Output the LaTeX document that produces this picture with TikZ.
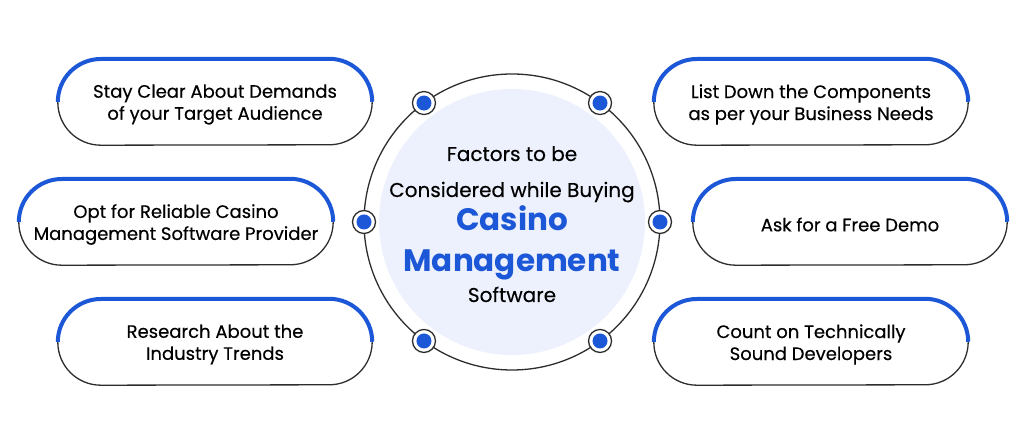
\documentclass[tikz,border=0pt]{standalone}
\usepackage{fontspec}
\setmainfont{Poppins}
\newfontfamily\popmed[FakeBold=0.35]{Poppins}
\usetikzlibrary{calc}
\definecolor{brandblue}{RGB}{27,87,214}
\definecolor{softfill}{RGB}{237,241,253}
\definecolor{darkline}{RGB}{45,45,45}
\tikzset{
  pillshape/.style={rectangle, inner sep=0pt, minimum width=314pt, minimum height=86pt},
  pilltext/.style={inner sep=0pt, align=center, yshift=-2.5pt,
    font=\popmed\fontsize{18}{22}\selectfont, text=black},
  pillline/.style={draw=darkline, line width=1.3pt},
  pilltop/.style={draw=brandblue, line width=4pt},
  dotouter/.style={circle, draw=darkline, line width=1.3pt, fill=white, minimum size=23pt, inner sep=0pt},
  dotinner/.style={circle, fill=brandblue, minimum size=15pt, inner sep=0pt},
  titlesmall/.style={anchor=base, font=\popmed\fontsize{20}{22}\selectfont, text=black},
  titlebig/.style={anchor=base, font=\fontsize{31}{34}\selectfont\bfseries, text=brandblue}
}
\newcommand\pillbox[4]{%
  \node[pillshape] (#1) at (#2,#3) {};
  \node[pilltext] (#1t) at (#1.center) {#4};
  \draw[pillline] ([xshift=43pt]#1.north west) -- ([xshift=-43pt]#1.north east)
     arc[start angle=90,end angle=-90,radius=43pt] -- ([xshift=43pt]#1.south west)
     arc[start angle=270,end angle=90,radius=43pt] -- cycle;
  \draw[pilltop] (#1.west) arc[start angle=180,end angle=90,radius=43pt]
     -- ([xshift=-43pt]#1.north east) arc[start angle=90,end angle=0,radius=43pt];
}
\begin{document}
\begin{tikzpicture}[x=1pt,y=1pt]
\useasboundingbox[fill=white] (0,0) rectangle (1024,427);
% central circle
\coordinate (hub) at (512,205);
\fill[softfill] (hub) circle[radius=133pt];
\draw[darkline, line width=1.3pt] (hub) circle[radius=148pt];
% dots
\foreach \ang/\nm in {126.5/dA, 53.5/dB, 180/dC, 0/dD, -126.5/dE, -53.5/dF}{
  \node[dotouter] (\nm) at ($(hub)+(\ang:148pt)$) {};
  \node[dotinner] (\nm i) at (\nm) {};
}
% title
\node[titlesmall] (t1) at (512,266) {Factors to be};
\node[titlesmall] (t2) at (512,230) {Considered while Buying};
\node[titlebig] (t3) at (512,196) {Casino};
\node[titlebig] (t4) at (512,155) {Management};
\node[titlesmall] (t5) at (512,125) {Software};
% boxes
\pillbox{lt}{215}{325}{Stay Clear About Demands\\of your Target Audience}
\pillbox{lm}{176}{205}{Opt for Reliable Casino\\Management Software Provider}
\pillbox{lb}{215}{85}{Research About the\\Industry Trends}
\pillbox{rt}{811}{325}{List Down the Components\\as per your Business Needs}
\pillbox{rm}{850}{205}{Ask for a Free Demo}
\pillbox{rb}{811}{85}{Count on Technically\\Sound Developers}
\end{tikzpicture}
\end{document}
